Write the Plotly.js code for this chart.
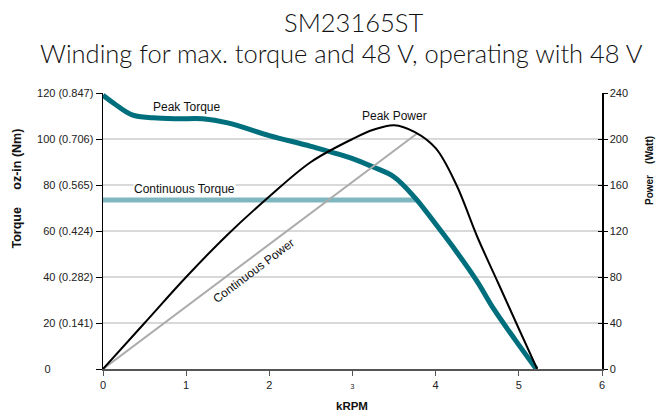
<!DOCTYPE html>
<html>
<head>
<meta charset="utf-8">
<script src="https://cdn.plot.ly/plotly-3.0.1.min.js"></script>
<style>html,body{margin:0;padding:0;background:#fff;}#chart{width:662px;height:420px;}</style>
</head>
<body>
<div id="chart"></div>
<script>
// kRPM
const peakTorqueX = [0, 0.15, 0.35, 0.6, 0.9, 1.2, 1.5, 2.0, 2.5, 3.0, 3.25, 3.5, 3.75, 4.0, 4.25, 4.5, 4.7, 4.95, 5.21];
// oz-in
const peakTorqueY = [119, 115, 110.5, 109.2, 108.8, 108.8, 107, 101.5, 96.8, 91.5, 87.8, 83.5, 74.5, 63, 51, 38, 26, 13, 0];

const contTorqueX = [0, 3.78];
const contTorqueY = [73.5, 73.5];

// Watt
const peakPowerX = [0, 0.5, 1.0, 1.5, 2.0, 2.5, 3.0, 3.25, 3.5, 3.75, 4.0, 4.25, 4.5, 4.75, 5.0, 5.22];
const peakPowerY = [0, 40, 80, 117, 150, 180, 200, 208, 212, 206, 192, 160, 115, 75, 35, 0];

const contPowerX = [0, 3.78];
const contPowerY = [0, 205];

const xTickVals = [0, 1, 2, 3, 4, 5, 6];
const xTickText = ['0', '1', '2', '<span style="font-size:7px">3</span>', '4', '5', '6'];
const yTickVals = [0, 20, 40, 60, 80, 100, 120];
const yTickText = ['0\u00A0\u00A0\u00A0\u00A0\u00A0\u00A0\u00A0\u00A0\u00A0\u00A0\u00A0\u00A0\u00A0\u00A0', '20 (0.141)', '40 (0.282)', '60 (0.424)', '80 (0.565)', '100 (0.706)', '120 (0.847)'];
const y2TickVals = [0, 40, 80, 120, 160, 200, 240];

const titleLine1 = 'SM23165ST';
const titleLine2 = 'Winding for max. torque and 48 V, operating with 48 V';

const tickFont = {family: 'Liberation Sans, Arial, sans-serif', size: 11, color: '#222'};

const traces = [
  {x: contPowerX, y: contPowerY, yaxis: 'y2', mode: 'lines', line: {color: '#ababab', width: 2}, hoverinfo: 'skip'},
  {x: peakPowerX, y: peakPowerY, yaxis: 'y2', mode: 'lines', line: {color: '#000', width: 2, shape: 'spline', smoothing: 1}, hoverinfo: 'skip'},
  {x: contTorqueX, y: contTorqueY, mode: 'lines', line: {color: '#7fb7c0', width: 5}, hoverinfo: 'skip'},
  {x: peakTorqueX, y: peakTorqueY, mode: 'lines', line: {color: '#006f7d', width: 5, shape: 'spline', smoothing: 1}, hoverinfo: 'skip'},
  {x: [0], y: [0], yaxis: 'y3', mode: 'markers', marker: {opacity: 0}, hoverinfo: 'skip'}
];

const annFont = {family: 'Liberation Sans, Arial, sans-serif', size: 12, color: '#111'};
const labFontL = {family: 'Liberation Sans, Arial, sans-serif', size: 12.5, color: '#111', weight: 'bold'};
const labFontR = {family: 'Liberation Sans, Arial, sans-serif', size: 10, color: '#111', weight: 'bold'};
const labFontX = {family: 'Liberation Sans, Arial, sans-serif', size: 11.5, color: '#111', weight: 'bold'};
const titleFont = {family: 'Lato, sans-serif', size: 25.5, color: '#111', weight: 300};

const M = {l: 103, r: 60, t: 93, b: 51};
const PW = 662 - M.l - M.r, PH = 420 - M.t - M.b;
function px(x) { return (x - M.l) / PW; }
function py(y) { return 1 - (y - M.t) / PH; }

const layout = {
  width: 662, height: 420,
  margin: M,
  paper_bgcolor: '#fff', plot_bgcolor: '#fff',
  showlegend: false,
  xaxis: {
    range: [0, 6], tickvals: xTickVals, ticktext: xTickText,
    ticks: 'outside', ticklen: 5, tickcolor: '#555', tickwidth: 1,
    showline: true, linecolor: '#555', linewidth: 1.5,
    showgrid: false, zeroline: false, tickfont: tickFont, fixedrange: true
  },
  yaxis: {
    range: [0, 120], tickvals: yTickVals, ticktext: yTickText,
    ticks: 'outside', ticklen: 6, tickcolor: '#000', tickwidth: 1,
    showline: true, linecolor: '#000', linewidth: 1.5,
    showgrid: true, gridcolor: '#d9d9d9', gridwidth: 1.5,
    zeroline: false, tickfont: tickFont, fixedrange: true
  },
  yaxis2: {
    range: [0, 240], tickvals: y2TickVals, overlaying: 'y', side: 'right',
    ticks: 'outside', ticklen: 4, tickcolor: '#000', tickwidth: 1,
    showline: true, linecolor: '#000', linewidth: 1.5,
    showgrid: false, zeroline: false, tickfont: tickFont, fixedrange: true
  },
  yaxis3: {
    range: [0, 240], tickvals: y2TickVals, overlaying: 'y', side: 'right',
    ticks: 'inside', ticklen: 4, tickcolor: '#000', tickwidth: 1,
    showticklabels: false, showline: false, showgrid: false, zeroline: false, fixedrange: true
  },
  annotations: [
    {text: titleLine1, x: px(353), y: py(22), xref: 'paper', yref: 'paper', showarrow: false, font: titleFont, xanchor: 'center', yanchor: 'middle'},
    {text: titleLine2, x: px(341.5), y: py(53), xref: 'paper', yref: 'paper', showarrow: false, font: titleFont, xanchor: 'center', yanchor: 'middle'},
    {text: 'Peak Torque', x: 1.0, y: 113.8, xref: 'x', yref: 'y', showarrow: false, font: annFont},
    {text: 'Continuous Torque', x: 0.98, y: 78.2, xref: 'x', yref: 'y', showarrow: false, font: annFont, bgcolor: '#fff', borderpad: 0},
    {text: 'Peak Power', x: 3.51, y: 109.8, xref: 'x', yref: 'y', showarrow: false, font: annFont},
    {text: 'Continuous Power', x: 1.81, y: 42.4, xref: 'x', yref: 'y', showarrow: false, font: annFont, textangle: -37},
    {text: 'Torque\u00A0\u00A0\u00A0\u00A0\u00A0oz-in (Nm)', x: px(16), y: py(188.5), xref: 'paper', yref: 'paper', showarrow: false, textangle: -90, font: labFontL, xanchor: 'center', yanchor: 'middle'},
    {text: 'Power\u00A0\u00A0\u00A0\u00A0(Watt)', x: px(650), y: py(171), xref: 'paper', yref: 'paper', showarrow: false, textangle: -90, font: labFontR, xanchor: 'center', yanchor: 'middle'},
    {text: 'kRPM', x: px(352), y: py(406), xref: 'paper', yref: 'paper', showarrow: false, font: labFontX, xanchor: 'center', yanchor: 'middle'}
  ]
};

Plotly.newPlot('chart', traces, layout, {staticPlot: true, displayModeBar: false});
</script>
</body>
</html>
